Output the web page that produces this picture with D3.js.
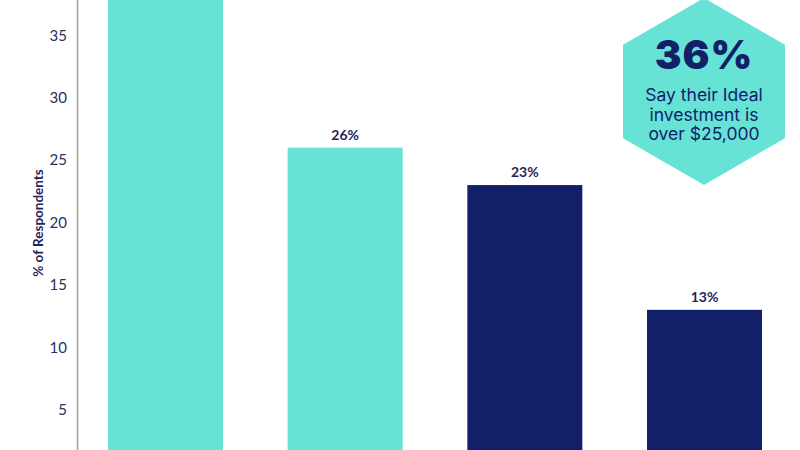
<!DOCTYPE html>
<html>
<head>
<meta charset="utf-8">
<script src="https://cdn.jsdelivr.net/npm/d3@7"></script>
<style>
	body { margin: 0; background: #fff; }
	svg { display: block; overflow: hidden; }
	.axis text { font-family: Lato, sans-serif; font-size: 15px; fill: #2b2f5c; }
	.axis path { stroke: #a0a0a0; stroke-width: 1.5; }
</style>
</head>
<body>
<div id="chart"></div>
<script>
// data
let categories = ["Group 1", "Group 2", "Group 3", "Group 4"];
let values = [38, 26, 23, 13];
let yTicks = [5, 10, 15, 20, 25, 30, 35];
let highlighted = ["Group 3", "Group 4"];
let calloutValue = "36%";
let calloutLines = ["Say their Ideal", "investment is", "over $25,000"];

let teal = "#67e3d5";
let navy = "#12206a";

// define width, height and margins (the bottom of the chart falls below the window)
let width = 800, height = 450;
let margin = {top: -27, right: 7, bottom: -22, left: 77};

let svg = d3.select("#chart").append("svg")
	.attr("width", width)
	.attr("height", height);

// scales
let x = d3.scaleBand()
	.domain(categories)
	.range([margin.left, width - margin.right])
	.paddingInner(0.36)
	.paddingOuter(0.1725);

let y = d3.scaleLinear()
	.domain([0, 40])
	.range([height - margin.bottom, margin.top]);

// bars
svg.selectAll("rect.bar")
	.data(categories)
	.enter().append("rect")
	.attr("class", "bar")
	.attr("x", d => x(d))
	.attr("width", x.bandwidth())
	.attr("y", (d, i) => y(values[i]))
	.attr("height", (d, i) => y(0) - y(values[i]))
	.attr("fill", d => highlighted.includes(d) ? navy : teal);

// value labels (the tallest bar's label sits above the window, so leave it out)
svg.selectAll("text.value")
	.data(categories.filter((d, i) => y(values[i]) - 8 > 14))
	.enter().append("text")
	.attr("class", "value")
	.attr("x", d => x(d) + x.bandwidth() / 2)
	.attr("y", d => y(values[categories.indexOf(d)]) - 8)
	.attr("text-anchor", "middle")
	.style("font-family", "Lato, sans-serif")
	.style("font-weight", "bold")
	.style("font-size", "14px")
	.style("fill", "#1f2558")
	.text(d => values[categories.indexOf(d)] + "%");

// y axis
let yAxis = d3.axisLeft(y)
	.tickValues(yTicks)
	.tickSize(0)
	.tickPadding(10);

svg.append("g")
	.attr("class", "axis")
	.attr("transform", "translate(" + margin.left + ",0)")
	.call(yAxis);

// y axis title
svg.append("text")
	.attr("transform", "translate(43,223) rotate(-90)")
	.attr("text-anchor", "middle")
	.style("font-family", "Lato, sans-serif")
	.style("font-weight", "bold")
	.style("font-size", "13.5px")
	.style("fill", "#1f2558")
	.text("% of Respondents");

// hexagon callout
let hex = {cx: 704, cy: 91.5, r: 93.5};
let hexPoints = d3.range(6).map(i => {
	let a = Math.PI / 3 * i - Math.PI / 2;
	return [hex.cx + hex.r * Math.cos(a), hex.cy + hex.r * Math.sin(a)];
});

let callout = svg.append("g");
callout.append("polygon")
	.attr("points", hexPoints.map(p => p.join(",")).join(" "))
	.attr("fill", teal);

callout.append("text")
	.attr("x", hex.cx)
	.attr("y", 69)
	.attr("text-anchor", "middle")
	.style("font-family", "Inter, sans-serif")
	.style("font-weight", 900)
	.style("font-size", "40px")
	.style("letter-spacing", "1px")
	.style("fill", navy)
	.text(calloutValue);

callout.selectAll("text.line")
	.data(calloutLines)
	.enter().append("text")
	.attr("class", "line")
	.attr("x", hex.cx)
	.attr("y", (d, i) => 101 + i * 19.5)
	.attr("text-anchor", "middle")
	.style("font-family", "Inter, sans-serif")
	.style("font-size", "17.5px")
	.style("fill", navy)
	.text(d => d);
</script>
</body>
</html>
